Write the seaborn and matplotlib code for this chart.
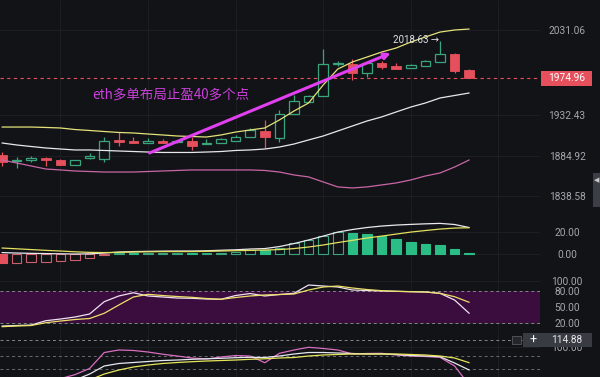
import numpy as np
import pandas as pd
import matplotlib.pyplot as plt
import matplotlib.transforms as mtransforms
from matplotlib.patches import Rectangle
import seaborn as sns

sns.set_style('dark')
plt.rcParams['font.family'] = ['Roboto', 'DejaVu Sans']

BG = '#121317'
GRID = '#1d1f25'
UP = '#3aa57c'
UP_FILL = '#2bbd86'
DOWN = '#e5505c'
LABEL = '#a3a6ad'

# ETH candles
opens = [1886.1, 1879.1, 1880.3, 1882.6, 1880.3, 1874.5, 1882.6, 1881.4, 1903.5, 1902.3, 1900.0,
         1902.3, 1901.1, 1902.3, 1898.8, 1900.0, 1902.3, 1906.9, 1913.9, 1905.8, 1933.6, 1947.5,
         1954.5, 1991.6, 1991.6, 1981.2, 1992.8, 1989.3, 1987.0, 1989.3, 1993.9, 2003.2, 1984.7]
highs = [1889.5, 1883.7, 1884.9, 1883.7, 1881.4, 1880.3, 1888.4, 1906.9, 1912.7, 1906.9, 1905.8,
         1904.6, 1903.5, 1906.9, 1904.6, 1905.8, 1909.3, 1917.4, 1926.7, 1938.3, 1955.7, 1955.7,
         2009.0, 1995.1, 1997.4, 1993.9, 1995.1, 1992.8, 1991.6, 1996.3, 2018.63, 2004.4, 1985.8]
lows = [1873.3, 1871.0, 1877.9, 1873.3, 1874.5, 1874.5, 1881.4, 1877.9, 1896.5, 1900.0, 1900.0,
        1900.0, 1900.0, 1891.9, 1898.8, 1900.0, 1902.3, 1906.9, 1894.2, 1901.1, 1933.6, 1947.5,
        1954.5, 1989.3, 1973.1, 1976.5, 1985.8, 1985.8, 1987.0, 1989.3, 1993.9, 1981.2, 1974.96]
closes = [1877.9, 1880.3, 1882.6, 1880.3, 1874.5, 1880.3, 1884.9, 1902.3, 1901.1, 1900.0, 1902.3,
          1900.0, 1902.3, 1896.5, 1900.0, 1904.6, 1906.9, 1915.1, 1906.9, 1933.6, 1948.7, 1954.5,
          1991.6, 1992.8, 1981.2, 1992.8, 1988.1, 1985.8, 1990.5, 1995.1, 2003.2, 1983.5, 1974.96]

# Bollinger bands
bb_upper = [1918.5, 1918.5, 1918.5, 1918.0, 1917.4, 1915.6, 1914.5, 1913.3, 1912.2, 1911.6, 1910.4,
            1909.3, 1908.1, 1907.5, 1906.9, 1909.3, 1912.7, 1915.1, 1917.4, 1926.7, 1937.1, 1946.4,
            1967.3, 1985.8, 1994.0, 1999.7, 2005.5, 2010.2, 2017.1, 2023.0, 2028.7, 2031.1, 2032.2]
bb_mid = [1900.0, 1897.7, 1895.9, 1894.2, 1893.0, 1891.9, 1891.9, 1891.3, 1890.7, 1890.1, 1889.5,
          1889.0, 1889.0, 1889.0, 1889.5, 1890.1, 1891.3, 1891.9, 1893.0, 1895.3, 1898.8, 1903.5,
          1908.1, 1913.9, 1919.7, 1925.5, 1930.2, 1936.0, 1941.7, 1946.4, 1952.2, 1955.1, 1958.0]
bb_lower = [1880.3, 1876.8, 1873.3, 1869.8, 1868.7, 1867.5, 1866.9, 1866.3, 1866.3, 1866.3, 1866.9,
            1867.5, 1868.1, 1868.7, 1868.7, 1868.7, 1868.7, 1868.7, 1868.1, 1866.3, 1862.9, 1860.6,
            1854.8, 1849.0, 1847.8, 1849.0, 1851.3, 1853.6, 1857.1, 1861.7, 1865.2, 1872.1, 1880.3]

# MACD
macd_hist = [-8.3, -8.1, -7.2, -6.9, -6.0, -5.1, -3.6, -1.0, 0.6, 0.5, 0.7, 0.8, 0.9, 0.7, 0.8, 1.2,
             1.8, 3.4, 3.3, 5.6, 9.6, 12.6, 16.4, 19.5, 19.3, 17.7, 16.4, 13.5, 11.0, 9.0, 8.1, 4.5, 0.9]
macd_dif = [1.3, 0.9, 0.6, 0.4, 0.2, 0.0, 0.2, 0.9, 1.8, 2.2, 2.4, 2.6, 2.7, 2.7, 2.9, 3.4, 3.8, 4.5,
            4.9, 6.7, 9.4, 12.6, 16.1, 19.7, 22.0, 23.8, 25.1, 26.0, 26.6, 27.1, 27.5, 26.5, 23.8]
macd_dea = [5.4, 4.7, 4.0, 3.3, 2.7, 2.0, 1.5, 1.3, 1.5, 1.8, 2.0, 2.2, 2.2, 2.2, 2.4, 2.7, 3.0, 3.3,
            3.6, 4.0, 4.9, 6.3, 8.1, 10.3, 12.3, 14.4, 16.1, 17.9, 19.7, 21.1, 22.4, 23.3, 23.6]

# oscillator pane 1
osc1_fast = [13.7, 14.7, 15.6, 23.8, 27.0, 30.9, 36.6, 60.0, 70.9, 77.1, 70.9, 69.0, 67.0, 66.5, 65.1,
             64.6, 71.8, 75.6, 70.9, 73.7, 76.0, 91.8, 89.9, 88.0, 82.3, 81.3, 80.4, 79.8, 79.2, 78.5,
             76.0, 63.2, 37.9]
osc1_slow = [12.4, 13.7, 14.7, 20.0, 23.2, 26.1, 28.0, 37.9, 53.7, 69.0, 74.1, 71.8, 69.9, 68.4, 66.1,
             64.6, 68.0, 70.9, 72.8, 73.7, 74.7, 82.3, 88.0, 89.9, 86.1, 83.2, 81.0, 79.8, 79.0, 78.5,
             76.0, 69.5, 58.9]

# oscillator pane 2
osc2_a = [20, 22, 24, 26, 29, 38.0, 51.6, 87.0, 92.7, 91.6, 88.2, 83.3, 79.3, 74.9, 72.7, 77.1, 80.4,
          79.3, 64.4, 85.3, 92.7, 98.7, 96.0, 92.7, 83.8, 84.9, 85.3, 81.6, 79.3, 78.2, 76.4, 57.1, 15.0]
osc2_b = [20, 21, 22, 23, 24, 26.0, 39.3, 57.1, 62.7, 64.9, 67.1, 69.3, 70.4, 72.0, 73.1, 74.2, 75.6,
          76.4, 76.0, 79.3, 83.8, 87.1, 87.1, 86.0, 84.9, 83.8, 83.8, 82.7, 80.4, 79.3, 77.8, 63.8, 48.2]
osc2_c = [15, 16, 17, 18, 19, 20, 26.0, 39.3, 48.2, 54.9, 59.3, 62.7, 64.9, 66.7, 68.2, 69.3, 70.4,
          72.0, 73.1, 74.9, 76.0, 79.3, 81.6, 82.7, 83.8, 83.8, 83.8, 83.8, 82.7, 81.6, 79.3, 74.9, 64.4]

price_ticks = [2031.06, 1932.43, 1884.92, 1838.58]
last_price = 1974.96
crosshair_value = 114.88

idx = np.arange(len(opens))
df = pd.DataFrame({'i': idx, 'open': opens, 'high': highs, 'low': lows, 'close': closes})

fig = plt.figure(figsize=(6, 3.77), dpi=100, facecolor=BG)
W = 0.9
ax_main = fig.add_axes([0, 0.4509, W, 0.5491])
ax_macd = fig.add_axes([0, 0.2706, W, 0.1803])
ax_rsi = fig.add_axes([0, 0.1167, W, 0.1539])
ax_osc = fig.add_axes([0, 0.0, W, 0.1167])

for ax in (ax_main, ax_macd, ax_rsi, ax_osc):
    ax.set_facecolor(BG)
    for s in ax.spines.values():
        s.set_visible(False)
    ax.set_xlim(-0.137, 36.85)
    ax.set_xticks([4, 10, 16, 22, 28, 34])
    ax.tick_params(axis='x', length=0, labelbottom=False)
    ax.yaxis.tick_right()
    ax.tick_params(axis='y', length=0, labelsize=7.3, colors=LABEL, pad=19.5)
    ax.grid(True, color=GRID, lw=0.7)
    ax.set_xlabel('')
    ax.set_ylabel('')

# ---- main price pane
ax = ax_main
ax.set_ylim(1825.7, 2065.9)
up = (df['close'] >= df['open']).values
ax.vlines(df['i'], df['low'], df['high'], colors=np.where(up, UP, DOWN), lw=0.9, zorder=2)
bottom = np.minimum(df['open'], df['close'])
height = np.maximum((df['close'] - df['open']).abs(), 0.9)
ax.bar(df['i'][up], height[up], bottom=bottom[up], width=0.66,
       facecolor=BG, edgecolor=UP, lw=0.9, zorder=3)
ax.bar(df['i'][~up], height[~up], bottom=bottom[~up], width=0.66,
       facecolor=DOWN, edgecolor=DOWN, lw=0.6, zorder=3)

sns.lineplot(x=idx, y=bb_upper, ax=ax, color='#e4e27a', lw=0.9, zorder=4)
sns.lineplot(x=idx, y=bb_mid, ax=ax, color='#e8e8ec', lw=0.9, zorder=4)
sns.lineplot(x=idx, y=bb_lower, ax=ax, color='#c966a6', lw=0.9, zorder=4)

ax.axhline(last_price, color=DOWN, ls=(0, (3, 3)), lw=0.8, zorder=1)
ax.set_yticks(price_ticks)
ax.set_yticklabels([f'{v:.2f}' for v in price_ticks])

ax.annotate('', xy=(26.8, 2005.5), xytext=(9.93, 1887.2),
            arrowprops=dict(arrowstyle='-|>', color='#e040f0', lw=2.2, mutation_scale=9),
            zorder=6)
ax.text(6.16, 1956.8, 'eth多单布局止盈40多个点', color='#cc3fdc', fontsize=9.7,
        family=['Noto Sans CJK SC', 'DejaVu Sans'], ha='left', va='center', zorder=6)
ax.text(26.78, 2019.5, '2018.63 →', color='#e2e2e6', fontsize=7,
        family=['Roboto', 'DejaVu Sans'], ha='left', va='center', zorder=6)

tr = mtransforms.blended_transform_factory(ax.transAxes, ax.transData)
ax.add_patch(Rectangle((1.002, last_price - 8.7), 0.0944, 17.4, transform=tr,
                       facecolor=DOWN, edgecolor='none', clip_on=False, zorder=5))
ax.text(1.05, last_price, f'{last_price:.2f}', transform=tr, color='white', fontsize=7.3,
        ha='center', va='center', zorder=6, clip_on=False)

# ---- MACD pane
ax = ax_macd
ax.set_ylim(-18.8, 42.2)
hist = np.array(macd_hist)
prev = np.r_[np.nan, hist[:-1]]
hollow = hist > prev
pos = hist >= 0
for mask_fill, mask_pos, fc, ec in [
        (~hollow & pos, True, UP_FILL, UP_FILL),
        (hollow & pos, True, BG, UP),
        (~hollow & ~pos, False, DOWN, DOWN),
        (hollow & ~pos, False, BG, '#c9606c')]:
    ax.bar(idx[mask_fill], hist[mask_fill], width=0.66, facecolor=fc, edgecolor=ec, lw=0.8, zorder=2)
sns.lineplot(x=idx, y=macd_dif, ax=ax, color='#ebe8f0', lw=0.9, zorder=3)
sns.lineplot(x=idx, y=macd_dea, ax=ax, color='#e4e060', lw=0.9, zorder=3)
ax.set_yticks([20, 0])
ax.set_yticklabels(['20.00', '0.00'])

# ---- oscillator pane 1
ax = ax_rsi
ax.set_ylim(0.4, 110.9)
ax.axhspan(20, 80, color='#3a0d3e', lw=0, zorder=1)
for lv in (80, 20):
    ax.axhline(lv, color='#85858c', ls=(0, (3, 3)), lw=0.7, zorder=2)
sns.lineplot(x=idx, y=osc1_fast, ax=ax, color='#efe0f2', lw=0.9, zorder=3)
sns.lineplot(x=idx, y=osc1_slow, ax=ax, color='#ece068', lw=0.9, zorder=3)
ax.set_yticks([100, 80, 50, 20])
ax.set_yticklabels(['100.00', '80.00', '50.00', '20.00'])

# ---- oscillator pane 2
ax = ax_osc
ax.set_ylim(32.7, 130.4)
for lv in (80, 50):
    ax.axhline(lv, color='#6a6a72', ls=(0, (3, 3)), lw=0.7, zorder=2)
ax.axhline(crosshair_value, color='#85858c', ls=(0, (3, 3)), lw=0.7, zorder=2)
sns.lineplot(x=idx, y=osc2_a, ax=ax, color='#d86ec0', lw=0.9, zorder=3)
sns.lineplot(x=idx, y=osc2_b, ax=ax, color='#e6e6f0', lw=0.9, zorder=3)
sns.lineplot(x=idx, y=osc2_c, ax=ax, color='#e6e45a', lw=0.9, zorder=3)
ax.set_yticks([100])
ax.set_yticklabels(['100.00'])

tr = mtransforms.blended_transform_factory(ax.transAxes, ax.transData)
ax.add_patch(Rectangle((0.9685, crosshair_value - 15.5), 0.128, 31, transform=tr,
                       facecolor='#383b42', edgecolor='none', clip_on=False, zorder=5))
ax.add_patch(Rectangle((0.949, crosshair_value - 9), 0.016, 18, transform=tr,
                       facecolor='#24262b', edgecolor='#55585f', lw=0.6, clip_on=False, zorder=5))
ax.text(0.987, crosshair_value, '+', transform=tr, color='white', fontsize=9,
        ha='center', va='center', zorder=6, clip_on=False)
ax.text(1.05, crosshair_value, f'{crosshair_value:.2f}', transform=tr, color='#e8e8ec',
        fontsize=7.3, ha='center', va='center', zorder=6, clip_on=False)

for ax in (ax_main, ax_macd, ax_rsi, ax_osc):
    for lab in ax.get_yticklabels():
        lab.set_horizontalalignment('center')
    if ax.get_legend() is not None:
        ax.get_legend().remove()

# side scroll handle
fig.patches.append(Rectangle((593 / 600, 1 - 207 / 377), 7 / 600, 34 / 377,
                             transform=fig.transFigure, facecolor='#3c3e45', edgecolor='none'))
fig.text(596.5 / 600, 1 - 181 / 377, '◀', color='#c8c8cc', fontsize=5, ha='center', va='center')

fig.savefig('out.png', dpi=100, facecolor=BG)
